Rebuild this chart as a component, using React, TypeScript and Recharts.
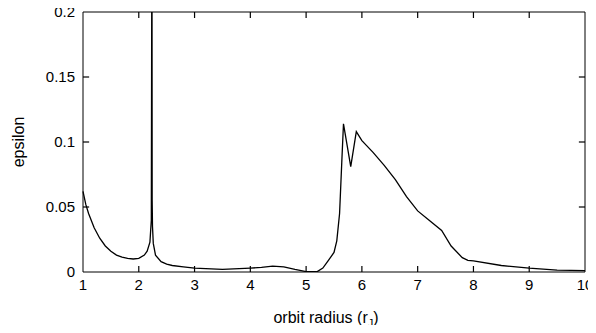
import React from 'react';
import { Line, LineChart, XAxis, YAxis, Label, ReferenceLine } from 'recharts';

// orbit radius (r_J) and epsilon
const radius = [
  1.0, 1.05, 1.1, 1.2, 1.3, 1.4, 1.5, 1.6, 1.7, 1.8, 1.9, 2.0, 2.1, 2.15, 2.2, 2.225, 2.236, 2.24,
  2.246, 2.26, 2.3, 2.4, 2.5, 2.6, 2.8, 3.0, 3.5, 4.0, 4.2, 4.4, 4.6, 4.8, 5.0, 5.2, 5.3, 5.4,
  5.5, 5.55, 5.6, 5.64, 5.67, 5.8, 5.9, 6.0, 6.2, 6.4, 6.6, 6.8, 7.0, 7.2, 7.43, 7.6, 7.8, 7.9,
  8.0, 8.5, 9.0, 9.5, 10.0,
];
const epsilon = [
  0.062, 0.052, 0.045, 0.034, 0.026, 0.02, 0.016, 0.013, 0.0115, 0.0105, 0.01, 0.0105, 0.013,
  0.016, 0.023, 0.04, 0.3, 0.055, 0.035, 0.022, 0.013, 0.008, 0.006, 0.005, 0.004, 0.003, 0.002,
  0.003, 0.0035, 0.0045, 0.004, 0.002, 0.0003, 0.0003, 0.003, 0.009, 0.015, 0.024, 0.045, 0.085,
  0.114, 0.081, 0.108, 0.101, 0.092, 0.082, 0.071, 0.058, 0.047, 0.04, 0.032, 0.02, 0.011, 0.009,
  0.0085, 0.005, 0.003, 0.0015, 0.001,
];
const xTicks = [1, 2, 3, 4, 5, 6, 7, 8, 9, 10];
const yTicks = [0, 0.05, 0.1, 0.15, 0.2];

const data = radius.map((r, i) => ({ r, e: epsilon[i] }));

const X_MIN = 1;
const X_MAX = 10;
const Y_MAX = 0.2;
// inward tick length (~6px) expressed in axis units
const TX = 0.11;
const TY = 0.0046;

const FONT = '"Liberation Sans", Arial, sans-serif';
const tickFont = { fontSize: 15, fontFamily: FONT, fill: '#000' };

function XTitle({ viewBox }: any) {
  const cx = viewBox.x + viewBox.width / 2;
  return (
    <text x={cx - 8} y={viewBox.y + 51} textAnchor="middle" fontSize={16} fontFamily={FONT} fill="#000">
      orbit radius (r
      <tspan fontSize={11} dy={4}>J</tspan>
      <tspan dy={-4}>)</tspan>
    </text>
  );
}

export default function App() {
  const tickStyle = { stroke: '#000', strokeWidth: 1.2, ifOverflow: 'visible' as const };
  return (
    <div style={{ margin: -8 }}>
      <LineChart
        width={596}
        height={333}
        data={data}
        margin={{ top: 11, right: 10, left: 0, bottom: 21 }}
      >
        <XAxis
          xAxisId="b"
          dataKey="r"
          type="number"
          domain={[X_MIN, X_MAX]}
          ticks={xTicks}
          height={40}
          tickSize={0}
          tickMargin={7}
          tickLine={false}
          axisLine={{ stroke: '#000' }}
          tick={tickFont}
          interval={0}
        >
          <Label content={<XTitle />} />
        </XAxis>
        <XAxis
          xAxisId="t"
          dataKey="r"
          type="number"
          orientation="top"
          domain={[X_MIN, X_MAX]}
          height={1}
          tickLine={false}
          axisLine={{ stroke: '#000' }}
          tick={false}
        />
        <YAxis
          yAxisId="l"
          type="number"
          domain={[0, Y_MAX]}
          allowDataOverflow
          ticks={yTicks}
          width={83}
          tickSize={0}
          tickMargin={8}
          tickLine={false}
          axisLine={{ stroke: '#000' }}
          tick={tickFont}
          interval={0}
        >
          <Label
            value="epsilon"
            angle={-90}
            position="insideLeft"
            offset={18}
            style={{ fontSize: 16, fontFamily: FONT, fill: '#000', textAnchor: 'middle' }}
          />
        </YAxis>
        <YAxis
          yAxisId="r"
          orientation="right"
          type="number"
          domain={[0, Y_MAX]}
          width={1}
          tickLine={false}
          axisLine={{ stroke: '#000' }}
          tick={false}
        />
        {xTicks.slice(1, -1).map((t) => (
          <ReferenceLine
            key={`xb${t}`}
            xAxisId="b"
            yAxisId="l"
            segment={[{ x: t, y: 0 }, { x: t, y: TY }]}
            {...tickStyle}
          />
        ))}
        {xTicks.slice(1, -1).map((t) => (
          <ReferenceLine
            key={`xt${t}`}
            xAxisId="b"
            yAxisId="l"
            segment={[{ x: t, y: Y_MAX }, { x: t, y: Y_MAX - TY }]}
            {...tickStyle}
          />
        ))}
        {yTicks.slice(1, -1).map((t) => (
          <ReferenceLine
            key={`yl${t}`}
            xAxisId="b"
            yAxisId="l"
            segment={[{ x: X_MIN, y: t }, { x: X_MIN + TX, y: t }]}
            {...tickStyle}
          />
        ))}
        {yTicks.slice(1, -1).map((t) => (
          <ReferenceLine
            key={`yr${t}`}
            xAxisId="b"
            yAxisId="l"
            segment={[{ x: X_MAX, y: t }, { x: X_MAX - TX, y: t }]}
            {...tickStyle}
          />
        ))}
        <Line
          xAxisId="b"
          yAxisId="l"
          type="linear"
          dataKey="e"
          stroke="#000"
          strokeWidth={1.3}
          dot={false}
          isAnimationActive={false}
        />
      </LineChart>
    </div>
  );
}
